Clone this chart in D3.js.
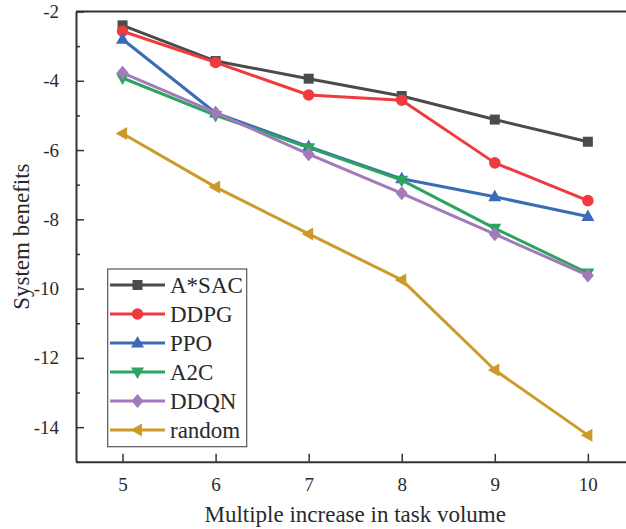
<!DOCTYPE html>
<html>
<head>
<meta charset="utf-8">
<script src="https://cdn.jsdelivr.net/npm/d3@7"></script>
<style>
  html, body { margin: 0; padding: 0; background: #fff; }
  svg { display: block; font-family: "Liberation Serif", "Times New Roman", serif; }
</style>
</head>
<body>
<svg id="chart" width="626" height="529"></svg>
<script>
// Task-volume multipliers on the x axis
const volumes = [5, 6, 7, 8, 9, 10];

// System benefit per algorithm
const aSac   = [-2.40, -3.43, -3.94, -4.44, -5.12, -5.76];
const ddpg   = [-2.57, -3.47, -4.41, -4.56, -6.37, -7.46];
const ppo    = [-2.80, -4.93, -5.90, -6.83, -7.35, -7.92];
const a2c    = [-3.92, -5.00, -5.93, -6.87, -8.26, -9.55];
const ddqn   = [-3.77, -4.92, -6.12, -7.25, -8.43, -9.62];
const random = [-5.52, -7.07, -8.42, -9.75, -12.35, -14.23];

const seriesNames = ["A*SAC", "DDPG", "PPO", "A2C", "DDQN", "random"];
const seriesColors = ["#4b4b4b", "#ef3b3f", "#3a6bb5", "#2ca35f", "#a27ab9", "#cc9a2a"];
const seriesSymbols = ["square", "circle", "triUp", "triDown", "diamond", "triLeft"];
const seriesValues = [aSac, ddpg, ppo, a2c, ddqn, random];

const xTicks = [5, 6, 7, 8, 9, 10];
const yTicks = [-2, -4, -6, -8, -10, -12, -14];
const yMinorTicks = [-3, -5, -7, -9, -11, -13, -15];

const svg = d3.select("#chart");
const plotLeft = 76, plotTop = 11.5, plotBottom = 461.8, plotRight = 634.4;

const x = d3.scaleLinear().domain([4.5, 10.5]).range([plotLeft, plotRight]);
const y = d3.scaleLinear().domain([-15, -2]).range([plotBottom, plotTop]);

const axisColor = "#333";
const textColor = "#2a2a2a";

// Marker path generators centred at 0,0
function symbolPath(kind) {
  switch (kind) {
    case "square": return d3.symbol(d3.symbolSquare, 100)();
    case "circle": return d3.symbol(d3.symbolCircle, 105)();
    case "diamond": return "M0,-7L6,0L0,7L-6,0Z";
    case "triUp": return "M0,-7L6.5,4.5L-6.5,4.5Z";
    case "triDown": return "M0,7L6.5,-4.5L-6.5,-4.5Z";
    case "triLeft": return "M-7,0L4.5,-6.5L4.5,6.5Z";
  }
}

// Series lines and markers
const line = d3.line().x((d, i) => x(volumes[i])).y(d => y(d));
const plot = svg.append("g");
seriesValues.forEach((vals, k) => {
  const g = plot.append("g");
  g.append("path")
    .attr("d", line(vals))
    .attr("fill", "none")
    .attr("stroke", seriesColors[k])
    .attr("stroke-width", 3)
    .attr("stroke-linejoin", "round");
  g.selectAll("path.m").data(vals).join("path")
    .attr("class", "m")
    .attr("d", symbolPath(seriesSymbols[k]))
    .attr("transform", (d, i) => `translate(${x(volumes[i])},${y(d)})`)
    .attr("fill", seriesColors[k]);
});

// Axes (ticks drawn inward)
const xAxis = d3.axisBottom(x).tickValues(xTicks).tickFormat(d3.format("d"))
  .tickSize(-8).tickPadding(16).tickSizeOuter(0);
const gx = svg.append("g").attr("transform", `translate(0,${plotBottom})`).call(xAxis);
const yAxis = d3.axisLeft(y).tickValues(yTicks).tickFormat(d => String(d))
  .tickSize(-8).tickPadding(17).tickSizeOuter(0);
const gy = svg.append("g").attr("transform", `translate(${plotLeft},0)`).call(yAxis);
svg.append("g").attr("transform", `translate(${plotLeft},0)`)
  .call(d3.axisLeft(y).tickValues(yMinorTicks).tickSize(-4).tickFormat("").tickSizeOuter(0))
  .call(g => g.select(".domain").remove())
  .selectAll("line").attr("stroke", axisColor).attr("stroke-width", 1.5);

[gx, gy].forEach(g => {
  g.attr("font-family", null).attr("font-size", null);
  g.select(".domain").attr("stroke", axisColor).attr("stroke-width", 2);
  g.selectAll(".tick line").attr("stroke", axisColor).attr("stroke-width", 1.5);
  g.selectAll(".tick text")
    .attr("fill", textColor)
    .style("font-family", "'Liberation Serif', serif")
    .style("font-size", "19px");
});
gx.selectAll(".tick text").attr("dy", "0.71em");

// Top frame line
svg.append("line")
  .attr("x1", plotLeft).attr("x2", plotRight).attr("y1", plotTop).attr("y2", plotTop)
  .attr("stroke", axisColor).attr("stroke-width", 2);

// Axis titles
svg.append("text")
  .attr("x", (plotLeft + plotRight) / 2).attr("y", 522)
  .attr("text-anchor", "middle")
  .attr("fill", textColor)
  .style("font-size", "23px")
  .text("Multiple increase in task volume");

svg.append("text")
  .attr("transform", `translate(29,${(plotTop + plotBottom) / 2}) rotate(-90)`)
  .attr("text-anchor", "middle")
  .attr("fill", textColor)
  .style("font-size", "23px")
  .text("System benefits");

// Legend
const legend = svg.append("g");
legend.append("rect")
  .attr("x", 107.7).attr("y", 269).attr("width", 139).attr("height", 177.7)
  .attr("fill", "#fff").attr("stroke", "#555").attr("stroke-width", 1.2);
seriesNames.forEach((name, k) => {
  const cy = 285 + k * 29;
  const row = legend.append("g");
  row.append("line")
    .attr("x1", 110).attr("x2", 165).attr("y1", cy).attr("y2", cy)
    .attr("stroke", seriesColors[k]).attr("stroke-width", 3);
  row.append("path")
    .attr("d", symbolPath(seriesSymbols[k]))
    .attr("transform", `translate(137.5,${cy})`)
    .attr("fill", seriesColors[k]);
  row.append("text")
    .attr("x", 170).attr("y", cy + 8)
    .attr("fill", textColor)
    .style("font-size", "23px")
    .text(name);
});
</script>
</body>
</html>
